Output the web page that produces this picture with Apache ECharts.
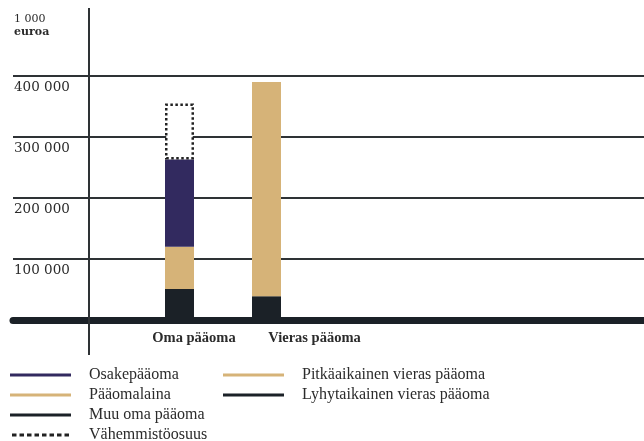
<!DOCTYPE html>
<html>
<head>
<meta charset="utf-8">
<script src="https://cdn.jsdelivr.net/npm/echarts@6/dist/echarts.min.js"></script>
<style>
  html, body { margin: 0; padding: 0; background: #ffffff; }
  #chart { width: 644px; height: 441px; }
</style>
</head>
<body>
<div id="chart"></div>
<script>
// Balance sheet structure, thousand euros
const categories = ['Oma pääoma', 'Vieras pääoma'];
const yTicks = [0, 100000, 200000, 300000, 400000, 500000];

// Equity side
const muuOmaPaaoma = [51000, null];
const paaomalaina = [69000, null];
const osakepaaoma = [143000, null];
const vahemmistoosuus = [92000, null];
// Liabilities side
const lyhytaikainen = [null, 39000];
const pitkaaikainen = [null, 351000];

const C_PURPLE = '#322a5f';
const C_TAN = '#d6b378';
const C_DARK = '#1b2127';
const C_GRID = '#2e3235';
const C_TEXT = '#2b2b2b';
const SERIF = '"Liberation Serif", "DejaVu Serif", serif';

function toData(values) {
  return values.map(v => (v == null ? '-' : v));
}

// category name drawn under the bottom segment of each column
function withCategoryLabel(values, offsetX) {
  return values.map((v, i) => {
    if (v == null) return '-';
    return {
      value: v,
      label: {
        show: true,
        position: 'bottom',
        distance: 11,
        offset: [offsetX, 0],
        formatter: categories[i],
        fontFamily: SERIF,
        fontWeight: 'bold',
        fontSize: 14.5,
        color: C_TEXT
      }
    };
  });
}

// dashed legend glyph
let dashPath = 'path://';
for (let i = 0; i < 8; i++) {
  dashPath += 'M' + (i * 7.5) + ',0h4.5v3h-4.5z';
}

const chart = echarts.init(document.getElementById('chart'), null, { renderer: 'canvas' });

const barBase = { type: 'bar', stack: 'total', barWidth: 29, xAxisIndex: 1, yAxisIndex: 1 };
const yRange = { min: yTicks[0], max: yTicks[yTicks.length - 1], interval: yTicks[1] - yTicks[0] };

const legendBase = {
  orient: 'vertical',
  top: 367,
  height: 80,
  padding: 0,
  itemWidth: 61,
  itemHeight: 3,
  itemGap: 4,
  icon: 'rect',
  selectedMode: false,
  textStyle: { fontFamily: SERIF, fontSize: 16, color: C_TEXT, lineHeight: 16, padding: [0, 0, 0, 13] }
};

chart.setOption({
  animation: false,
  backgroundColor: '#ffffff',
  title: {
    text: '{n|1 000}\n{u|euroa}',
    left: 14,
    top: 13,
    padding: 0,
    textStyle: {
      rich: {
        n: { fontFamily: '"DejaVu Serif", serif', fontSize: 11, fontWeight: 'normal', lineHeight: 13, color: C_TEXT },
        u: { fontFamily: '"DejaVu Serif", serif', fontSize: 11, fontWeight: 'bold', lineHeight: 13, color: C_TEXT }
      }
    }
  },
  grid: [
    // full-width frame: gridlines, value labels, baseline
    { left: 13, right: 0, top: 15, bottom: 121 },
    // columns
    { left: 136, width: 174, top: 15, bottom: 121 }
  ],
  xAxis: [
    {
      gridIndex: 0,
      type: 'value',
      min: 0,
      max: 1,
      axisLine: { show: true, onZero: true, lineStyle: { color: C_DARK, width: 7 } },
      axisTick: { show: false },
      axisLabel: { show: false },
      splitLine: { show: false }
    },
    {
      gridIndex: 1,
      type: 'category',
      data: categories,
      axisLine: { show: false },
      axisTick: { show: false },
      axisLabel: { show: false },
      splitLine: { show: false }
    }
  ],
  yAxis: [
    Object.assign({
      gridIndex: 0,
      type: 'value',
      axisLine: { show: false },
      axisTick: { show: false },
      axisLabel: {
        inside: true,
        margin: 1,
        verticalAlign: 'top',
        padding: [4, 0, 0, 0],
        fontFamily: '"DejaVu Serif", serif',
        fontSize: 13.5,
        color: C_TEXT,
        formatter: v => (v === yTicks[0] || v === yTicks[yTicks.length - 1]) ? '' : String(v).replace(/\B(?=(\d{3})+(?!\d))/g, ' ')
      },
      splitLine: { show: true, showMinLine: false, showMaxLine: false, lineStyle: { color: C_GRID, width: 2 } }
    }, yRange),
    Object.assign({
      gridIndex: 1,
      type: 'value',
      show: false,
      splitLine: { show: false }
    }, yRange)
  ],
  legend: [
    Object.assign({}, legendBase, {
      left: 10,
      data: [
        { name: 'Osakepääoma' },
        { name: 'Pääomalaina' },
        { name: 'Muu oma pääoma' },
        { name: 'Vähemmistöosuus', icon: dashPath, itemStyle: { color: '#222222', borderWidth: 0 } }
      ]
    }),
    Object.assign({}, legendBase, {
      left: 223,
      data: [
        { name: 'Pitkäaikainen vieras pääoma' },
        { name: 'Lyhytaikainen vieras pääoma' }
      ]
    })
  ],
  graphic: [
    {
      type: 'line',
      z: 1,
      shape: { x1: 89, y1: 8, x2: 89, y2: 355 },
      style: { stroke: C_GRID, lineWidth: 2 }
    }
  ],
  series: [
    Object.assign({}, barBase, { name: 'Muu oma pääoma', itemStyle: { color: C_DARK }, data: withCategoryLabel(muuOmaPaaoma, 14.5) }),
    Object.assign({}, barBase, { name: 'Pääomalaina', itemStyle: { color: C_TAN }, data: toData(paaomalaina) }),
    Object.assign({}, barBase, { name: 'Osakepääoma', itemStyle: { color: C_PURPLE }, data: toData(osakepaaoma) }),
    Object.assign({}, barBase, {
      name: 'Vähemmistöosuus',
      itemStyle: { color: '#ffffff', borderColor: '#222222', borderWidth: 2.5, borderType: 'dotted' },
      data: toData(vahemmistoosuus)
    }),
    Object.assign({}, barBase, { name: 'Lyhytaikainen vieras pääoma', itemStyle: { color: C_DARK }, data: withCategoryLabel(lyhytaikainen, 48) }),
    Object.assign({}, barBase, { name: 'Pitkäaikainen vieras pääoma', itemStyle: { color: C_TAN }, data: toData(pitkaaikainen) })
  ]
});
</script>
</body>
</html>
